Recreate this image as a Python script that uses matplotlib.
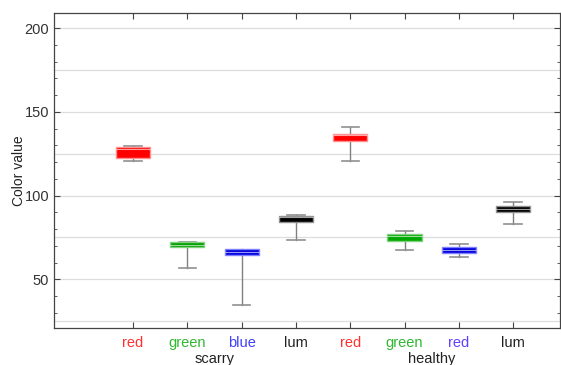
import numpy as np
import matplotlib.pyplot as plt
from matplotlib.ticker import MultipleLocator

plt.rcParams['font.family'] = ['Liberation Sans', 'DejaVu Sans']

# box statistics
labels = ["red", "green", "blue", "lum", "red", "green", "red", "lum"]
groups = ["scarry", "healthy"]
whislo = [120.9, 56.8, 34.9, 73.5, 120.7, 67.7, 63.3, 83.0]
q1 = [122.6, 69.0, 64.8, 84.2, 132.6, 73.0, 65.9, 90.2]
med = [128.0, 70.6, 66.5, 87.0, 136.0, 76.0, 67.7, 92.2]
q3 = [129.0, 72.3, 67.9, 87.8, 137.1, 77.0, 69.3, 93.6]
whishi = [129.6, 72.3, 67.7, 88.6, 141.0, 78.6, 70.9, 96.2]
grid_vals = [25, 50, 75, 100, 125, 150, 175, 200]

box_colors = ["#ff0000", "#00a000", "#0000dd", "#000000",
              "#ff0000", "#00a800", "#0000dd", "#000000"]
edge_colors = ["#ff9090", "#80d080", "#8080ff", "#909090",
               "#ff9090", "#80d080", "#8080ff", "#909090"]
label_colors = ["#ff3030", "#30b830", "#4040ff", "#202020",
                "#ff3030", "#30b830", "#6040ff", "#202020"]

stats = []
for i in range(len(labels)):
    stats.append(dict(whislo=whislo[i], q1=q1[i], med=med[i], q3=q3[i],
                      whishi=whishi[i], fliers=[]))

fig = plt.figure(figsize=(5.61, 3.65), dpi=100)
ax = fig.add_axes([0.0963, 0.1014, 0.9017, 0.863])

pos = np.arange(1, len(labels) + 1)
bp = ax.bxp(stats, positions=pos, widths=0.63, patch_artist=True,
            showfliers=False, capwidths=0.32,
            whiskerprops=dict(color="#808080", linewidth=1),
            capprops=dict(color="#909090", linewidth=1.2),
            medianprops=dict(color="white", linewidth=0.8, alpha=0.6))
for patch, fc, ec in zip(bp["boxes"], box_colors, edge_colors):
    patch.set_facecolor(fc)
    patch.set_edgecolor(ec)
    patch.set_linewidth(1)
    patch.set_zorder(3)
for m in bp["medians"]:
    m.set_zorder(4)

for g in grid_vals:
    ax.axhline(g, color="#dddddd", linewidth=0.9, zorder=0)

ax.set_xlim(-0.455, 8.86)
ax.set_ylim(20.9, 209.1)
ax.set_xticks(pos)
ax.set_xticklabels(labels, fontsize=10.5)
for t, c in zip(ax.get_xticklabels(), label_colors):
    t.set_color(c)

ax.yaxis.set_major_locator(MultipleLocator(50))
ax.yaxis.set_minor_locator(MultipleLocator(10))

ax.tick_params(which="both", direction="in", top=True, right=True,
               color="#444444", labelsize=10.5)
ax.tick_params(which="major", length=4, width=0.8)
ax.tick_params(which="minor", length=2.5, width=0.6)
ax.tick_params(axis="x", pad=6)
ax.tick_params(axis="y", labelcolor="#333333")
for sp in ax.spines.values():
    sp.set_color("#444444")
    sp.set_linewidth(0.9)

ax.set_ylabel("Color value", fontsize=10, color="#222222", labelpad=-1)

# group labels under the categories
ax.text(2.5, -0.075, groups[0], transform=ax.get_xaxis_transform(),
        ha="center", va="top", fontsize=10.5, color="#222222")
ax.text(6.5, -0.075, groups[1], transform=ax.get_xaxis_transform(),
        ha="center", va="top", fontsize=10.5, color="#222222")

fig.savefig("out.png", dpi=100)
